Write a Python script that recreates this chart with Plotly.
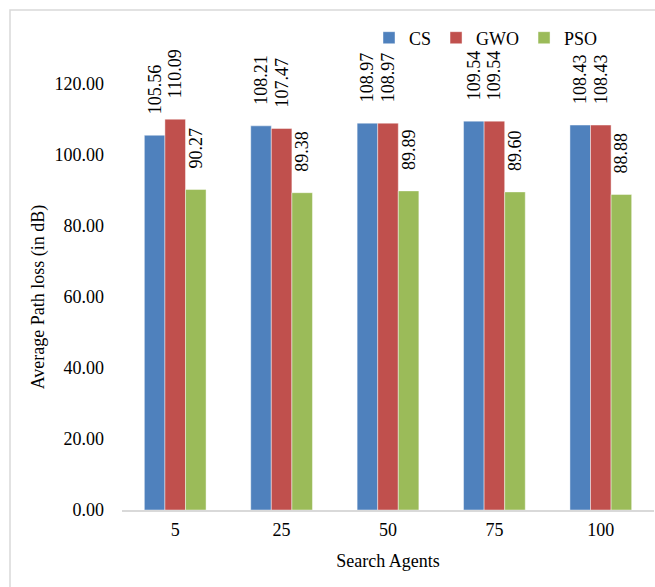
import plotly.graph_objects as go

# Average path loss per number of search agents
agents = ["5", "25", "50", "75", "100"]
cs = [105.56, 108.21, 108.97, 109.54, 108.43]
gwo = [110.09, 107.47, 108.97, 109.54, 108.43]
pso = [90.27, 89.38, 89.89, 89.60, 88.88]
y_ticks = [0, 20, 40, 60, 80, 100, 120]

series = [
    ("CS", cs, "#4F81BD"),
    ("GWO", gwo, "#C0504D"),
    ("PSO", pso, "#9BBB59"),
]

FONT = "Liberation Serif"
PAD = "\u00a0" * 4
label_font = dict(family=FONT, size=18, color="#000000")

fig = go.Figure()
for name, vals, color in series:
    fig.add_trace(go.Bar(
        name=name,
        x=agents,
        y=vals,
        marker=dict(color=color, line=dict(color="rgba(255,255,255,0.55)", width=0.8)),
        texttemplate=PAD + "%{y:.2f}",
        textposition="outside",
        textangle=-90,
        constraintext="none",
        cliponaxis=False,
        textfont=label_font,
        outsidetextfont=label_font,
    ))

# frame around the chart
W, H = 655, 587
L, R, T, B = 122, 1, 84, 77
pw, ph = W - L - R, H - T - B
def px_x(v):
    return (v - L) / pw
def px_y(v):
    return (H - B - v) / ph
fig.add_shape(type="rect", xref="paper", yref="paper",
              x0=px_x(10), x1=px_x(W + 10), y0=px_y(H + 10), y1=px_y(10),
              line=dict(color="#D9D9D9", width=1.5), fillcolor="rgba(0,0,0,0)", layer="below")

fig.update_layout(
    width=W, height=H,
    margin=dict(l=L, r=R, t=T, b=B),
    paper_bgcolor="white",
    plot_bgcolor="white",
    barmode="group",
    bargap=0.42,
    bargroupgap=0,
    font=dict(family=FONT, size=18, color="#000000"),
    uniformtext=dict(mode=False),
    showlegend=True,
    legend=dict(
        orientation="h",
        x=px_x(369), xanchor="left",
        y=px_y(38), yanchor="middle",
        font=dict(family=FONT, size=18, color="#000000"),
        bgcolor="rgba(0,0,0,0)",
        itemwidth=30,
        traceorder="normal",
    ),
    xaxis=dict(
        title=dict(text="Search Agents", font=dict(family=FONT, size=18), standoff=16),
        showline=True, linecolor="#D9D9D9", linewidth=2,
        ticks="", showgrid=False, zeroline=False,
        tickfont=dict(family=FONT, size=18),
        ticklabelstandoff=2,
        automargin=False,
    ),
    yaxis=dict(
        title=dict(text="Average Path loss (in dB)", font=dict(family=FONT, size=18), standoff=5),
        range=[0, 120],
        tickvals=y_ticks,
        tickformat=".2f",
        showline=False, showgrid=False, zeroline=False,
        ticks="",
        tickfont=dict(family=FONT, size=18),
        ticklabelstandoff=17,
        automargin=False,
    ),
)

fig.write_html("out.html")
